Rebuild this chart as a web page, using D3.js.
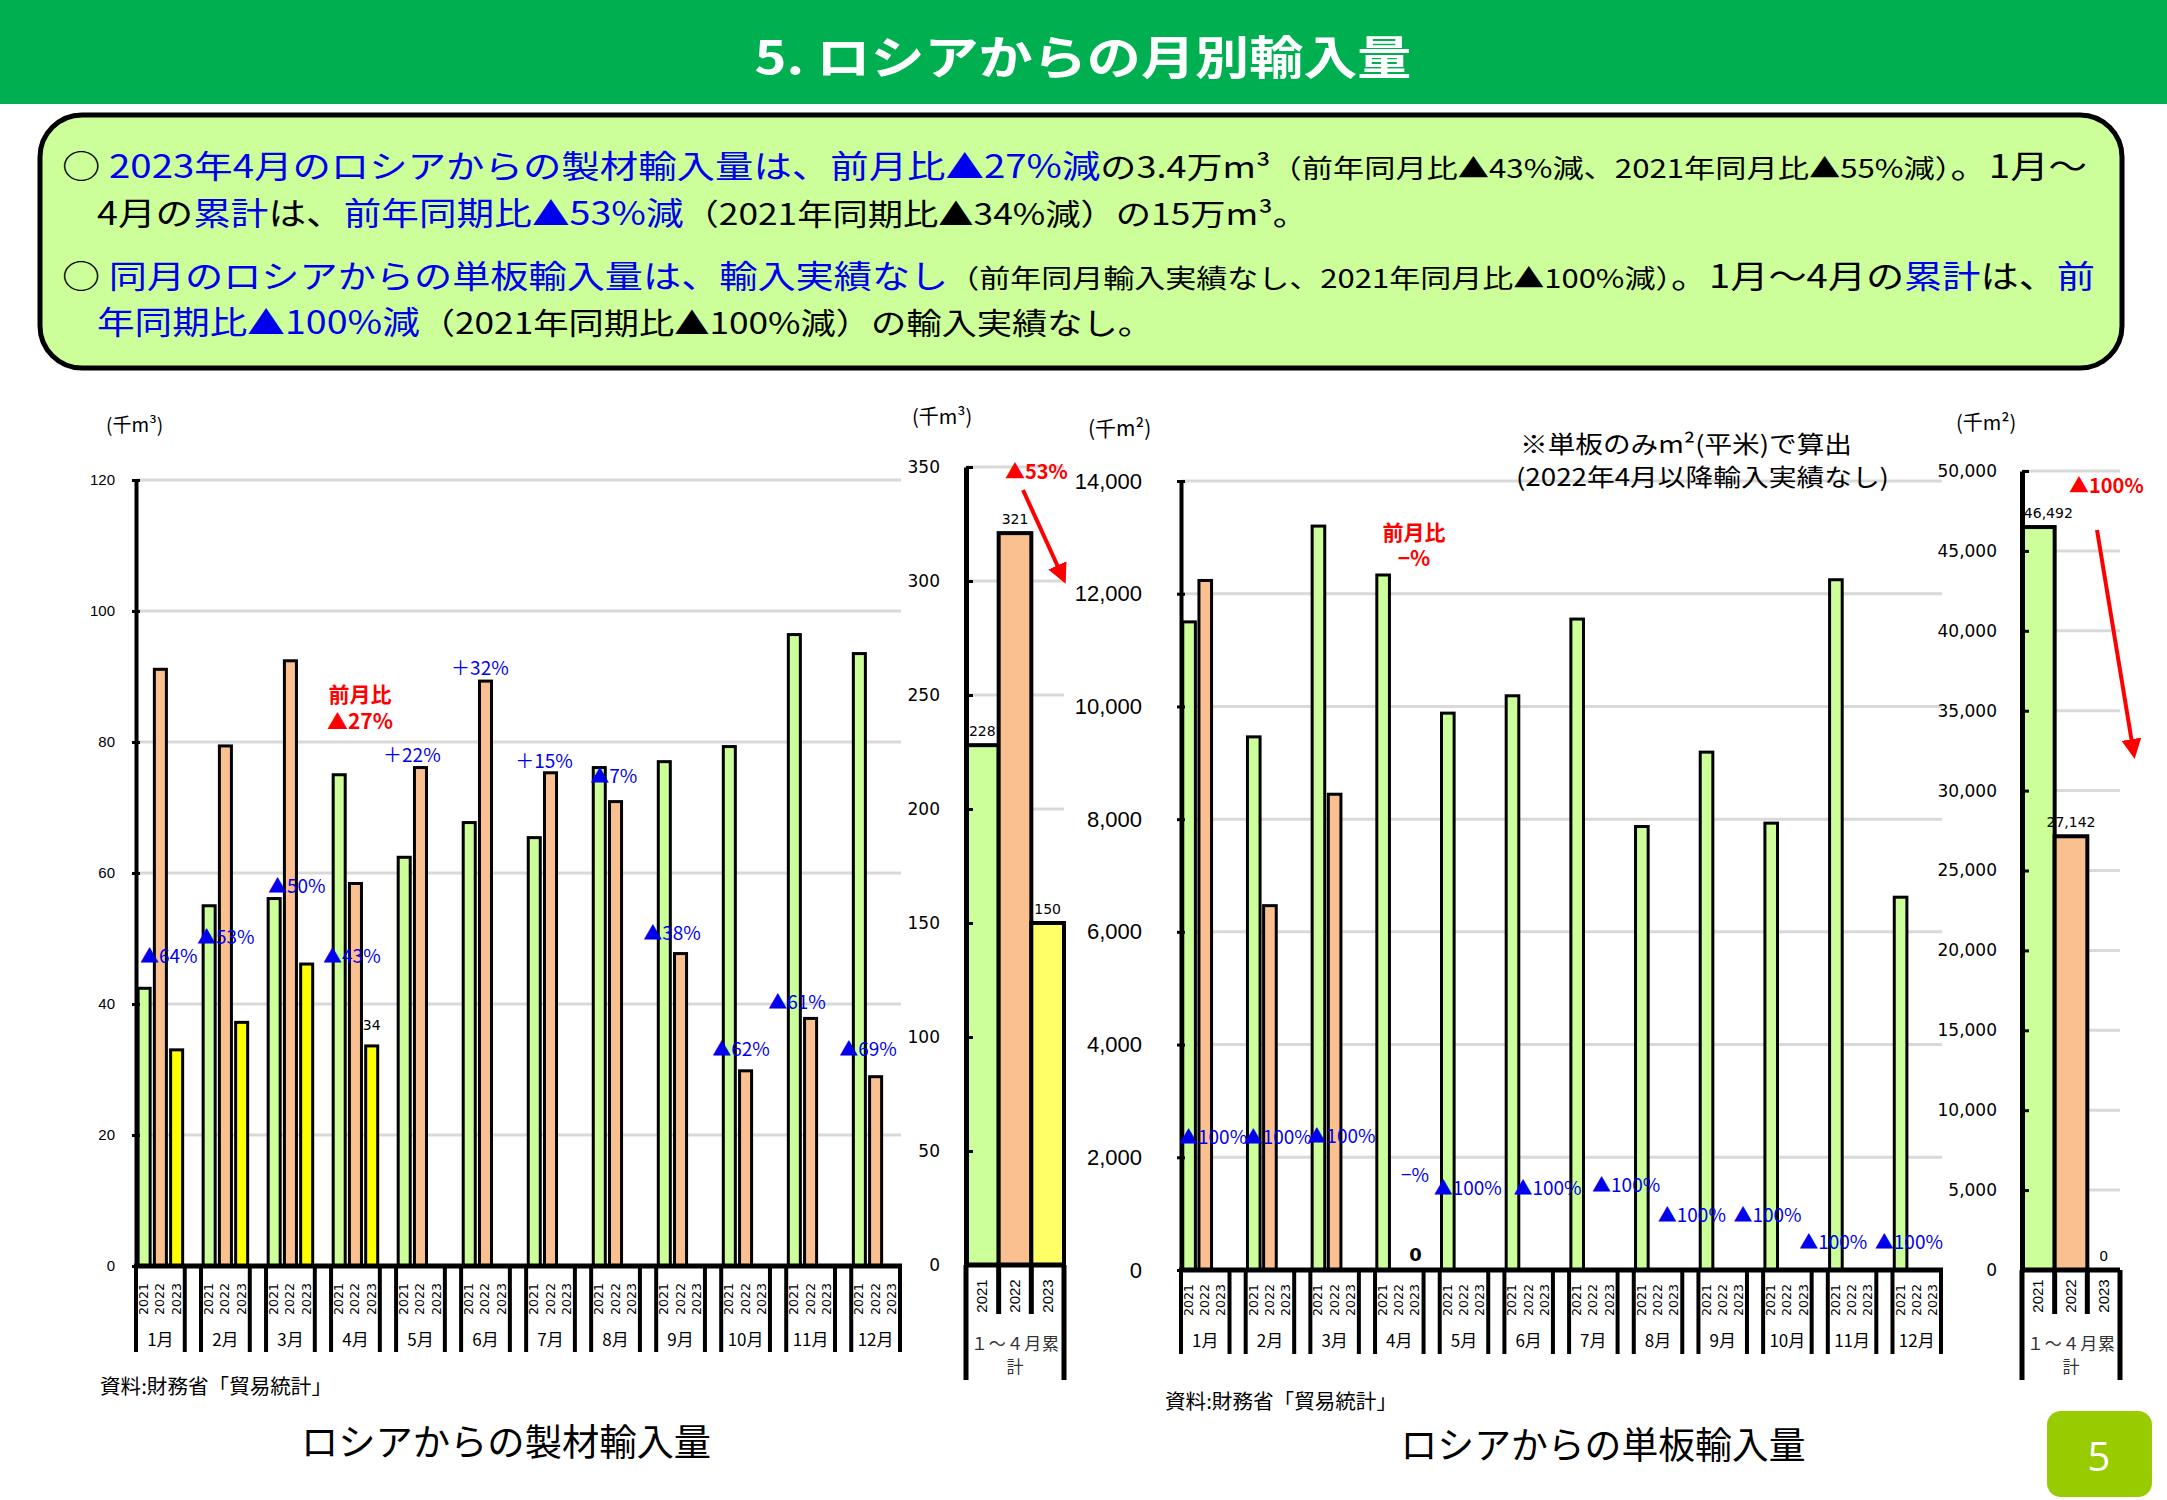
<!DOCTYPE html>
<html><head><meta charset="utf-8">
<script src="https://cdn.jsdelivr.net/npm/d3@7"></script>
<style>body{margin:0;background:#fff} svg{display:block}</style>
</head><body>
<svg id="c" width="2167" height="1500"></svg>
<script>
// ---------------- data ----------------
const months = ["1月","2月","3月","4月","5月","6月","7月","8月","9月","10月","11月","12月"];
const years = ["2021","2022","2023"];
// 製材 (千m3)
const sawn2021 = [42.4,55.0,56.1,75.0,62.4,67.7,65.4,76.1,77.0,79.3,96.4,93.5];
const sawn2022 = [91.1,79.4,92.4,58.4,76.1,89.3,75.3,70.9,47.7,29.8,37.8,28.9];
const sawn2023 = [33.0,37.2,46.1,33.6,null,null,null,null,null,null,null,null];
const sawnTicks = [0,20,40,60,80,100,120];
const sawnCum = [228,321,150];
const sawnCumTicks = [0,50,100,150,200,250,300,350];
const sawnPct = ["▲64%","▲53%","▲50%","▲43%","＋22%","＋32%","＋15%","▲7%","▲38%","▲62%","▲61%","▲69%"];
// 単板 (千m2)
const veneer2021 = [11500,9460,13200,12332,9881,10189,11550,7869,9189,7929,12248,6615];
const veneer2022 = [12235,6465,8442,0,0,0,0,0,0,0,0,0];
const veneer2023 = [0,0,0,0,null,null,null,null,null,null,null,null];
const veneerTicks = [0,2000,4000,6000,8000,10000,12000,14000];
const veneerCum = [46492,27142,0];
const veneerCumTicks = [0,5000,10000,15000,20000,25000,30000,35000,40000,45000,50000];
const veneerPct = ["▲100%","▲100%","▲100%","−%","▲100%","▲100%","▲100%","▲100%","▲100%","▲100%","▲100%"];
const cumCategory = ["１～４月累","計"];

// ---------------- layout (annotation placement) ----------------
// [month index, dx from month start (px), y in data units]
const sawnPctPos = [[0,4,47.5],[1,-4,50.5],[2,2,58.2],[3,-8,47.5],[4,-13,78.2],[5,-10,91.5],[6,-11,77.3],[7,-1,75.0],[8,-13,51.1],[9,-9,33.3],[10,-18,40.5],[11,-12,33.3]];
const veneerPctPos = [[0,-2,2380],[1,-2,2380],[2,-3,2400],[3,26,1720],[4,-6,1490],[5,9,1490],[6,23,1530],[7,24,1010],[8,35,1010],[9,36,530],[10,47,530]];

const svg = d3.select("#c");
const JP = "'Noto Sans CJK JP', 'Noto Sans', sans-serif";
const COL = {g:"#ccff99", o:"#fac090", y:"#ffff00", yc:"#ffff66", grid:"#d9d9d9", blue:"#0000ee", red:"#ff0000"};

svg.append("rect").attr("width",2167).attr("height",1500).attr("fill","#fff");

// defs: arrow
svg.append("defs").append("marker").attr("id","arr").attr("viewBox","0 0 10 10")
  .attr("refX",8).attr("refY",5).attr("markerWidth",5).attr("markerHeight",5).attr("orient","auto")
  .append("path").attr("d","M0,0L10,5L0,10z").attr("fill",COL.red);

// ---------------- header ----------------
svg.append("rect").attr("x",0).attr("y",0).attr("width",2167).attr("height",104).attr("fill","#00b050");
svg.append("text").attr("x",1083).attr("y",74).attr("text-anchor","middle")
  .attr("font-family",JP).attr("font-weight","bold").attr("font-size",46).attr("fill","#fff")
  .attr("textLength",657).attr("lengthAdjust","spacingAndGlyphs")
  .text("5. ロシアからの月別輸入量");

// ---------------- text box ----------------
svg.append("rect").attr("x",40).attr("y",115).attr("width",2082).attr("height",253).attr("rx",42)
  .attr("fill","#ccff99").attr("stroke","#000").attr("stroke-width",5);

function richLine(x,y,len,segs){
  const t = svg.append("text").attr("x",x).attr("y",y).attr("font-family",JP)
    .attr("textLength",len).attr("lengthAdjust","spacingAndGlyphs");
  segs.forEach(s=>t.append("tspan").attr("fill",s[1]==="b"?COL.blue:"#000").attr("font-size",s[2]||32).text(s[0]));
}
richLine(62,178,2025,[["○ ","k"],["2023年4月のロシアからの製材輸入量は、前月比▲27%減","b"],["の3.4万m³","k",30],["（前年同月比▲43%減、2021年同月比▲55%減）","k",26],["。1月～","k"]]);
richLine(97,225,1211,[["4月の","k"],["累計","b"],["は、","k"],["前年同期比▲53%減","b"],["（2021年同期比▲34%減）の15万m³。","k",30]]);
richLine(62,288,2033,[["○ ","k"],["同月のロシアからの単板輸入量は、輸入実績なし","b"],["（前年同月輸入実績なし、2021年同月比▲100%減）","k",26],["。1月～4月の","k"],["累計","b"],["は、","k"],["前","b"]]);
richLine(97,334,1056,[["年同期比▲100%減","b"],["（2021年同期比▲100%減）の輸入実績なし。","k",30]]);

// ---------------- generic monthly chart ----------------
function monthly(c){
  const slots=[];
  months.forEach((m,i)=>{for(let s=0;s<4;s++){ if(!(i===11&&s===3)) slots.push(i+"-"+s);} });
  const xs = d3.scaleBand().domain(slots).range([c.x0,c.x1]).padding(0);
  const ys = d3.scaleLinear().domain([0,c.max]).range([c.yb,c.yt]);
  const g = svg.append("g");
  // gridlines
  g.selectAll(".gl").data(c.ticks.filter(t=>t>0)).join("line")
    .attr("x1",c.x0).attr("x2",c.x1+1).attr("y1",d=>ys(d)).attr("y2",d=>ys(d))
    .attr("stroke",COL.grid).attr("stroke-width",3);
  // bars
  const bw = xs.bandwidth()*c.frac;
  const cols=[COL.g,COL.o,COL.y];
  c.series.forEach((arr,si)=>{
    const data = arr.map((v,i)=>({v,i})).filter(d=>d.v!==null && d.v>0);
    g.selectAll(".b"+si).data(data).join("rect")
      .attr("x",d=>xs(d.i+"-"+si)+(xs.bandwidth()-bw)/2).attr("width",bw)
      .attr("y",d=>ys(d.v)).attr("height",d=>ys(0)-ys(d.v))
      .attr("fill",cols[si]).attr("stroke","#000").attr("stroke-width",3);
  });
  // y axis
  const ax = d3.axisLeft(ys).tickValues(c.ticks).tickFormat(c.fmt).tickSizeInner(5).tickSizeOuter(0).tickPadding(c.pad);
  const ag = g.append("g").attr("transform",`translate(${c.x0},0)`).call(ax);
  ag.select(".domain").attr("stroke-width",4);
  ag.selectAll(".tick line").attr("stroke-width",3).attr("x2",4).attr("x1",-4);
  ag.selectAll(".tick text").attr("font-family",c.tickFont).attr("font-size",c.tickSize).attr("fill","#000");
  // x axis & category boxes
  g.append("line").attr("x1",c.x0-2).attr("x2",c.x1+2).attr("y1",ys(0)).attr("y2",ys(0)).attr("stroke","#000").attr("stroke-width",5);
  months.forEach((m,i)=>{
    const l = xs(i+"-0"), r = xs(i+"-2")+xs.bandwidth();
    [l,r].forEach(x=>g.append("line").attr("x1",x).attr("x2",x).attr("y1",ys(0)).attr("y2",c.catBottom).attr("stroke","#000").attr("stroke-width",4));
    years.forEach((yr,si)=>{
      const cx = xs(i+"-"+si)+xs.bandwidth()/2;
      g.append("text").attr("transform",`translate(${cx+4},${c.yearY}) rotate(-90)`)
        .attr("text-anchor","middle").attr("font-family","'DejaVu Sans', sans-serif").attr("font-size",12.5).text(yr);
    });
    g.append("text").attr("x",(l+r)/2).attr("y",c.monthY).attr("text-anchor","middle")
      .attr("font-family",JP).attr("font-size",17).text(m);
  });
  return {xs,ys,g};
}

// ---------------- left: 製材 monthly ----------------
const L = monthly({x0:136,x1:900,yt:480,yb:1266,max:120,ticks:sawnTicks,fmt:d3.format("d"),pad:16,
  tickFont:"'Liberation Sans', sans-serif",tickSize:15,series:[sawn2021,sawn2022,sawn2023],frac:0.74,
  catBottom:1352,yearY:1299,monthY:1346});
svg.append("text").attr("x",106).attr("y",432).attr("font-family",JP).attr("font-size",19).text("(千m³)");
sawnPct.forEach((t,k)=>{
  const p=sawnPctPos[k];
  svg.append("text").attr("x",L.xs(p[0]+"-0")+p[1]).attr("y",L.ys(p[2])).attr("dominant-baseline","central")
    .attr("font-family",JP).attr("font-size",19).attr("fill",COL.blue).text(t);
});
// value label for April 2023
svg.append("text").attr("x",L.xs("3-2")+L.xs.bandwidth()/2).attr("y",L.ys(sawn2023[3])-21).attr("dominant-baseline","central")
  .attr("text-anchor","middle").attr("font-family","'DejaVu Sans', sans-serif").attr("font-size",14).text(d3.format(".0f")(sawn2023[3]));
svg.append("text").attr("x",360).attr("y",693).attr("text-anchor","middle").attr("dominant-baseline","central")
  .attr("font-family",JP).attr("font-weight","bold").attr("font-size",21).attr("fill",COL.red).text("前月比");
svg.append("text").attr("x",360).attr("y",720).attr("text-anchor","middle").attr("dominant-baseline","central")
  .attr("font-family",JP).attr("font-weight","bold").attr("font-size",21).attr("fill",COL.red).text("▲27%");

// ---------------- cumulative chart ----------------
function cumul(c){
  const xs = d3.scaleBand().domain(years).range([c.x0,c.x1]).padding(0);
  const ys = d3.scaleLinear().domain([0,c.max]).range([c.yb,c.yt]);
  const g = svg.append("g");
  g.selectAll(".gl").data(c.ticks.filter(t=>t>0)).join("line")
    .attr("x1",c.x0).attr("x2",c.x1).attr("y1",d=>ys(d)).attr("y2",d=>ys(d))
    .attr("stroke",COL.grid).attr("stroke-width",3);
  const cols=[COL.g,COL.o,COL.yc];
  const data = c.vals.map((v,i)=>({v,i}));
  g.selectAll(".cb").data(data.filter(d=>d.v>0)).join("rect")
    .attr("x",d=>xs(years[d.i])).attr("width",xs.bandwidth())
    .attr("y",d=>ys(d.v)).attr("height",d=>ys(0)-ys(d.v))
    .attr("fill",d=>cols[d.i]).attr("stroke","#000").attr("stroke-width",4);
  g.selectAll(".cl").data(data).join("text")
    .attr("x",d=>xs(years[d.i])+xs.bandwidth()/2+(d.i===0?c.dx0:0)).attr("y",d=>ys(d.v)-14)
    .attr("text-anchor","middle").attr("dominant-baseline","central")
    .attr("font-family","'DejaVu Sans', sans-serif").attr("font-size",14).text(d=>c.fmtv(d.v));
  const ax = d3.axisLeft(ys).tickValues(c.ticks).tickFormat(c.fmt).tickSizeInner(0).tickSizeOuter(0).tickPadding(c.pad);
  const ag = g.append("g").attr("transform",`translate(${c.x0},0)`).call(ax);
  ag.select(".domain").attr("stroke-width",5);
  ag.selectAll(".tick").append("line").attr("x1",0).attr("x2",7).attr("stroke","#000").attr("stroke-width",3);
  ag.selectAll(".tick text").attr("font-family","'DejaVu Sans', sans-serif").attr("font-size",c.tickSize).attr("fill","#000");
  g.append("line").attr("x1",c.x0).attr("x2",c.x1).attr("y1",ys(0)).attr("y2",ys(0)).attr("stroke","#000").attr("stroke-width",5);
  [c.x0,c.x1].forEach(x=>g.append("line").attr("x1",x).attr("x2",x).attr("y1",ys(0)).attr("y2",1380).attr("stroke","#000").attr("stroke-width",5));
  years.forEach((yr,i)=>{
    const x = xs(yr);
    if(i>0) g.append("line").attr("x1",x).attr("x2",x).attr("y1",ys(0)).attr("y2",1314).attr("stroke","#000").attr("stroke-width",5);
    g.append("text").attr("transform",`translate(${x+xs.bandwidth()/2+5},1296) rotate(-90)`)
      .attr("text-anchor","middle").attr("font-family","'Liberation Sans', sans-serif").attr("font-size",15).text(yr);
  });
  const cx=(c.x0+c.x1)/2;
  g.append("text").attr("x",cx).attr("y",1350).attr("text-anchor","middle").attr("font-family",JP).attr("font-size",17)
    .attr("fill","#333").attr("textLength",88).attr("lengthAdjust","spacing").text(cumCategory[0]);
  g.append("text").attr("x",cx).attr("y",1373).attr("text-anchor","middle").attr("font-family",JP).attr("font-size",17)
    .attr("fill","#333").text(cumCategory[1]);
  return {xs,ys};
}

cumul({x0:966,x1:1064,yt:467,yb:1265,max:350,ticks:sawnCumTicks,fmt:d3.format("d"),pad:26,tickSize:17,vals:sawnCum,fmtv:d3.format("d"),dx0:0});
svg.append("text").attr("x",912).attr("y",424).attr("font-family",JP).attr("font-size",20).text("(千m³)");
svg.append("text").attr("x",1005).attr("y",470).attr("dominant-baseline","central").attr("font-family",JP)
  .attr("font-weight","bold").attr("font-size",20).attr("fill",COL.red).text("▲53%");
svg.append("line").attr("x1",1023).attr("y1",490).attr("x2",1064).attr("y2",580)
  .attr("stroke",COL.red).attr("stroke-width",4).attr("marker-end","url(#arr)");

// ---------------- right: 単板 monthly ----------------
const R = monthly({x0:1181,x1:1941,yt:481,yb:1270,max:14000,ticks:veneerTicks,fmt:d3.format(","),pad:34,
  tickFont:"'Liberation Sans', sans-serif",tickSize:22,series:[veneer2021,veneer2022,veneer2023],frac:0.78,
  catBottom:1354,yearY:1300,monthY:1347});
svg.append("text").attr("x",1088).attr("y",436).attr("font-family",JP).attr("font-size",21).text("(千m²)");
svg.append("text").attr("x",1520).attr("y",453).attr("font-family",JP).attr("font-size",24)
  .attr("textLength",332).attr("lengthAdjust","spacingAndGlyphs").text("※単板のみm²(平米)で算出");
svg.append("text").attr("x",1516).attr("y",486).attr("font-family",JP).attr("font-size",24)
  .attr("textLength",373).attr("lengthAdjust","spacingAndGlyphs").text("(2022年4月以降輸入実績なし)");
veneerPct.forEach((t,k)=>{
  const p=veneerPctPos[k];
  svg.append("text").attr("x",R.xs(p[0]+"-0")+p[1]).attr("y",R.ys(p[2])).attr("dominant-baseline","central")
    .attr("font-family",JP).attr("font-size",19).attr("fill",COL.blue).text(t);
});
svg.append("text").attr("x",R.xs("3-2")+R.xs.bandwidth()/2).attr("y",R.ys(veneer2023[3])-16).attr("dominant-baseline","central")
  .attr("text-anchor","middle").attr("font-family","'DejaVu Sans', sans-serif").attr("font-weight","bold").attr("font-size",18).text(d3.format("d")(veneer2023[3]));
svg.append("text").attr("x",1414).attr("y",531).attr("text-anchor","middle").attr("dominant-baseline","central")
  .attr("font-family",JP).attr("font-weight","bold").attr("font-size",21).attr("fill",COL.red).text("前月比");
svg.append("text").attr("x",1414).attr("y",557).attr("text-anchor","middle").attr("dominant-baseline","central")
  .attr("font-family",JP).attr("font-weight","bold").attr("font-size",21).attr("fill",COL.red).text("−%");

cumul({x0:2022,x1:2120,yt:471,yb:1270,max:50000,ticks:veneerCumTicks,fmt:d3.format(","),pad:25,tickSize:17,vals:veneerCum,fmtv:d3.format(","),dx0:10});
svg.append("text").attr("x",1956).attr("y",430).attr("font-family",JP).attr("font-size",20).text("(千m²)");
svg.append("text").attr("x",2069).attr("y",484).attr("dominant-baseline","central").attr("font-family",JP)
  .attr("font-weight","bold").attr("font-size",20).attr("fill",COL.red).text("▲100%");
svg.append("line").attr("x1",2097).attr("y1",530).attr("x2",2134).attr("y2",755)
  .attr("stroke",COL.red).attr("stroke-width",4).attr("marker-end","url(#arr)");

// ---------------- footers ----------------
svg.append("text").attr("x",100).attr("y",1394).attr("font-family",JP).attr("font-size",20)
  .attr("textLength",232).attr("lengthAdjust","spacingAndGlyphs").text("資料:財務省「貿易統計」");
svg.append("text").attr("x",1165).attr("y",1409).attr("font-family",JP).attr("font-size",20)
  .attr("textLength",232).attr("lengthAdjust","spacingAndGlyphs").text("資料:財務省「貿易統計」");
svg.append("text").attr("x",506).attr("y",1456).attr("text-anchor","middle").attr("font-family",JP).attr("font-size",37)
  .attr("textLength",410).attr("lengthAdjust","spacingAndGlyphs").text("ロシアからの製材輸入量");
svg.append("text").attr("x",1603).attr("y",1459).attr("text-anchor","middle").attr("font-family",JP).attr("font-size",37)
  .attr("textLength",405).attr("lengthAdjust","spacingAndGlyphs").text("ロシアからの単板輸入量");
svg.append("rect").attr("x",2047).attr("y",1411).attr("width",105).attr("height",86).attr("rx",14).attr("fill","#99cc00");
svg.append("text").attr("x",2099).attr("y",1455).attr("text-anchor","middle").attr("dominant-baseline","central")
  .attr("font-family","'Open Sans', sans-serif").attr("font-size",40).attr("fill","#fff").text("5");
</script>
</body></html>
